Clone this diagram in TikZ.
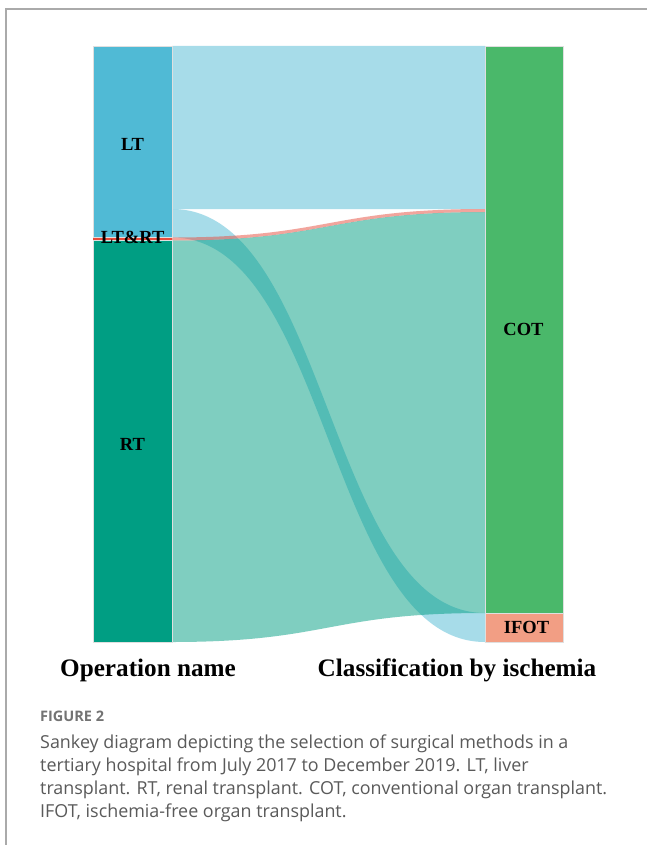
\documentclass[tikz,border=0pt]{standalone}
\usepackage{fontspec}
\setmainfont{Liberation Serif}
\newfontfamily\capfont{Open Sans}
\definecolor{ltc}{RGB}{80,186,213}
\definecolor{rtc}{RGB}{0,158,131}
\definecolor{lrc}{RGB}{231,76,60}
\definecolor{cotc}{RGB}{74,184,106}
\definecolor{ifotc}{RGB}{242,158,132}
\definecolor{framec}{RGB}{170,170,170}
\definecolor{captc}{RGB}{90,90,90}
% #1 x0, #2 y0 top, #3 y0 bottom, #4 x1, #5 y1 top, #6 y1 bottom, #7 style
\newcommand{\sankeyflow}[7]{%
  \fill[#7] (#1,#2) .. controls ({(#1+#4)/2},#2) and ({(#1+#4)/2},#5) .. (#4,#5)
    -- (#4,#6) .. controls ({(#1+#4)/2},#6) and ({(#1+#4)/2},#3) .. (#1,#3) -- cycle;}
\begin{document}
\begin{tikzpicture}[x=1pt,y=-1pt,
  bar/.style={rectangle, inner sep=0pt, outer sep=0pt, draw=white!75!gray, line width=0.4pt, anchor=north west},
  nlabel/.style={font=\bfseries\fontsize{18.5}{20}\selectfont, text=black, inner sep=0pt},
  axlabel/.style={font=\bfseries\fontsize{25.2}{28}\selectfont, text=black, inner sep=0pt, anchor=base},
  capline/.style={font=\capfont\fontsize{17.9}{20}\selectfont, text=captc, inner sep=0pt, anchor=base west},
  flowlt/.style={fill=ltc, fill opacity=0.5},
  flowrt/.style={fill=rtc, fill opacity=0.5},
  flowlr/.style={fill=lrc, fill opacity=0.5}]
\useasboundingbox (0,0) rectangle (647,845);
\fill[white] (0,0) rectangle (647,845);
% frame
\draw[framec, line width=1.2pt] (6,845) -- (6,9) -- (647,9);
% flows
\sankeyflow{172}{46}{209}{485}{46}{209}{flowlt}
\sankeyflow{172}{209}{237.5}{485}{613}{642}{flowlt}
\sankeyflow{172}{240.5}{642}{485}{212}{613}{flowrt}
\sankeyflow{172}{237.5}{240.5}{485}{209}{212}{flowlr}
% nodes (bars)
\node[bar, fill=ltc, minimum width=79pt, minimum height=191.5pt] (LT) at (93,46) {};
\node[bar, fill=lrc, draw=none, minimum width=79pt, minimum height=3pt] (LTRT) at (93,237.5) {};
\node[bar, fill=rtc, minimum width=79pt, minimum height=401.5pt] (RT) at (93,240.5) {};
\node[bar, fill=cotc, minimum width=78pt, minimum height=567pt] (COT) at (485,46) {};
\node[bar, fill=ifotc, minimum width=78pt, minimum height=29pt] (IFOT) at (485,613) {};
% node labels
\node[nlabel] (LTlab) at (132.5,144) {LT};
\node[nlabel] (LTRTlab) at (132.7,237.5) {LT\&RT};
\node[nlabel] (RTlab) at (132.5,444) {RT};
\node[nlabel] (COTlab) at (523.5,329.5) {COT};
\node[nlabel] (IFOTlab) at (526.5,627.5) {IFOT};
% axis labels
\node[axlabel] (opname) at (148,676) {Operation name};
\node[axlabel] (classif) at (457,676) {Classification by ischemia};
% caption
\node[capline, font=\capfont\bfseries\fontsize{14.5}{16}\selectfont, text=captc!85!white] (fig) at (40,721.5) {FIGURE 2};
\node[capline] (c1) at (40,748) {Sankey diagram depicting the selection of surgical methods in a};
\node[capline] (c2) at (40,771.3) {tertiary hospital from July 2017 to December 2019. LT, liver};
\node[capline] (c3) at (40,794.6) {transplant. RT, renal transplant. COT, conventional organ transplant.};
\node[capline] (c4) at (40,817.9) {IFOT, ischemia-free organ transplant.};
\end{tikzpicture}
\end{document}
